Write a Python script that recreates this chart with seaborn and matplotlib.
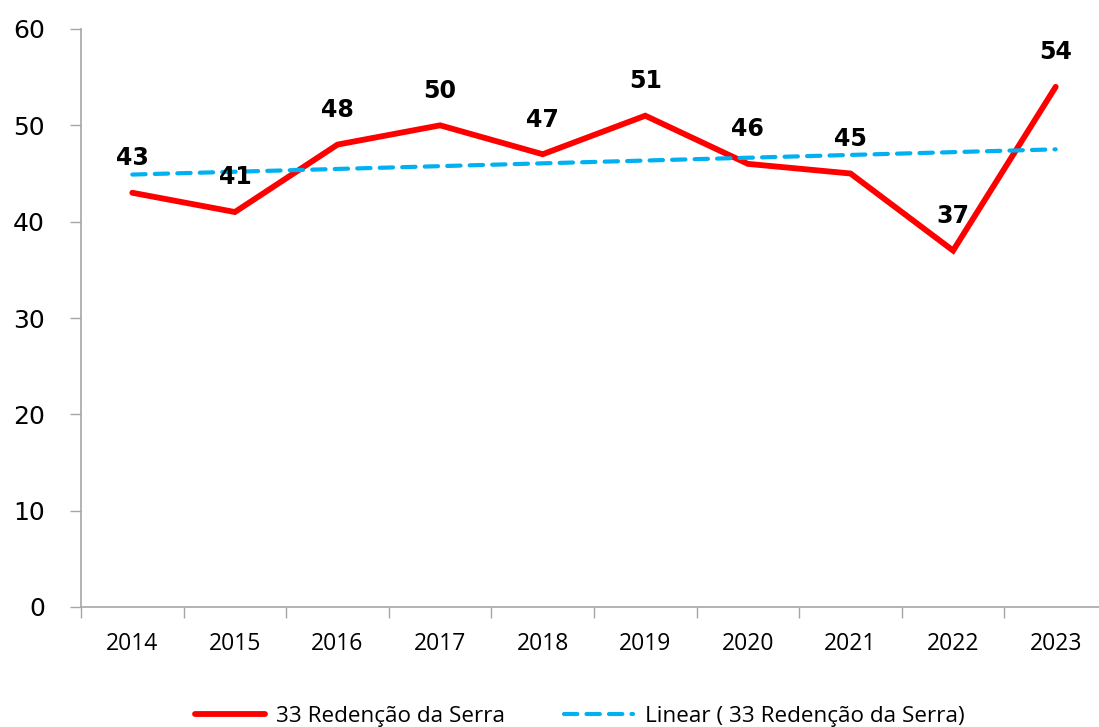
import numpy as np
import pandas as pd
import matplotlib
matplotlib.use("Agg")
import matplotlib.pyplot as plt
import seaborn as sns

years = ["2014", "2015", "2016", "2017", "2018", "2019", "2020", "2021", "2022", "2023"]
values = [43, 41, 48, 50, 47, 51, 46, 45, 37, 54]
series_name = "33 Redenção da Serra"
trend_name = "Linear ( 33 Redenção da Serra)"
y_ticks = [0, 10, 20, 30, 40, 50, 60]

sns.set_style("white")
plt.rcParams['font.family'] = ['DejaVu Sans']

df = pd.DataFrame({"x": np.arange(len(years)), "y": values})
coef = np.polyfit(df["x"], df["y"], 1)
df["trend"] = np.polyval(coef, df["x"])

fig = plt.figure(figsize=(10.99, 7.27), dpi=100)
ax = fig.add_axes([81/1099, 1 - 607/727, (1107-81)/1099, (607-29)/727])

sns.lineplot(data=df, x="x", y="y", ax=ax, color="#FF0000", linewidth=4.2,
             solid_capstyle="round", solid_joinstyle="miter", label=series_name)
sns.lineplot(data=df, x="x", y="trend", ax=ax, color="#00B0F0", linewidth=3.0,
             linestyle=(0, (3.2, 2.2)), dash_capstyle="round", label=trend_name)

for xi, yi in zip(df["x"], df["y"]):
    ax.annotate(str(yi), (xi, yi), xytext=(0, 25), textcoords="offset points",
                ha="center", va="center", fontsize=17, fontweight="bold",
                color="black", family="DejaVu Sans")

ax.set_xlim(-0.5, 9.5)
ax.set_ylim(0, 60)
ax.set_yticks(y_ticks)
ax.set_yticklabels([str(t) for t in y_ticks], fontsize=18, family="DejaVu Sans", color="black")
ax.set_xticks(np.arange(len(years)))
ax.set_xticklabels(years, fontsize=16.5, family="Open Sans", color="black")
ax.set_xticks(np.arange(-0.5, len(years), 1.0), minor=True)
ax.tick_params(axis="x", which="major", bottom=True, length=0, pad=18)
ax.tick_params(axis="x", which="minor", bottom=True, length=8, color="#A6A6A6", width=1)
ax.tick_params(axis="y", left=True, length=8, color="#A6A6A6", width=1, pad=18)
ax.set_xlabel("")
ax.set_ylabel("")
for s in ["top", "right"]:
    ax.spines[s].set_visible(False)
for s in ["left", "bottom"]:
    ax.spines[s].set_color("#A6A6A6")
    ax.spines[s].set_linewidth(1.2)

leg = ax.legend(loc="center", bbox_to_anchor=(0.486, -0.19), ncol=2, frameon=False,
                prop={"family": "Open Sans", "size": 16.2}, handlelength=3.1,
                columnspacing=2.6, handletextpad=0.5)
for t in leg.get_texts():
    t.set_color("black")

fig.savefig("out.png", dpi=100)
